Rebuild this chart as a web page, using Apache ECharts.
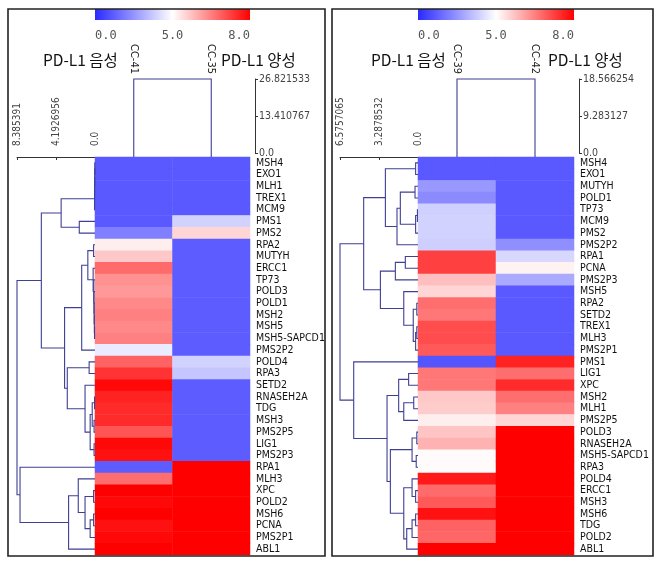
<!DOCTYPE html>
<html><head><meta charset="utf-8">
<script src="https://cdn.jsdelivr.net/npm/echarts@6/dist/echarts.min.js"></script>
<style>html,body{margin:0;padding:0;background:#fff}#c{width:662px;height:567px}</style>
</head><body><div id="c"></div>
<script>
// ---------------- DATA ----------------
const leftRows = ['MSH4','EXO1','MLH1','TREX1','MCM9','PMS1','PMS2','RPA2','MUTYH','ERCC1','TP73','POLD3','POLD1','MSH2','MSH5','MSH5-SAPCD1','PMS2P2','POLD4','RPA3','SETD2','RNASEH2A','TDG','MSH3','PMS2P5','LIG1','PMS2P3','RPA1','MLH3','XPC','POLD2','MSH6','PCNA','PMS2P1','ABL1'];
const leftCols = ['CC-41','CC-35'];
const leftCC41 = [1.0,1.0,1.0,1.0,1.0,1.0,1.9,5.2,5.65,6.75,6.3,6.2,6.4,6.5,6.4,6.5,4.5,6.85,7.4,7.9,7.6,7.5,7.5,7.0,7.9,7.8,1.1,6.7,8.0,7.9,8.0,7.8,7.9,8.0];
const leftCC35 = [1.0,1.0,1.0,1.0,1.0,3.9,5.5,1.1,1.1,1.1,1.1,1.1,1.1,1.1,1.1,1.1,1.1,3.9,3.6,1.1,1.1,1.1,1.1,1.1,1.1,1.1,8.0,8.0,8.0,8.0,8.0,8.0,8.0,8.0];

const rightRows = ['MSH4','EXO1','MUTYH','POLD1','TP73','MCM9','PMS2','PMS2P2','RPA1','PCNA','PMS2P3','MSH5','RPA2','SETD2','TREX1','MLH3','PMS2P1','PMS1','LIG1','XPC','MSH2','MLH1','PMS2P5','POLD3','RNASEH2A','MSH5-SAPCD1','RPA3','POLD4','ERCC1','MSH3','MSH6','TDG','POLD2','ABL1'];
const rightCols = ['CC-39','CC-42'];
const rightCC39 = [1.0,1.0,2.5,2.2,3.85,3.9,3.9,3.8,7.25,7.25,5.75,5.5,6.7,6.6,7.1,7.1,6.95,0.9,6.6,6.6,5.65,5.6,5.2,5.7,5.9,5.05,5.05,7.7,6.75,6.95,7.8,6.85,6.8,8.0];
const rightCC42 = [1.0,1.0,1.0,1.0,1.0,1.0,1.0,2.3,4.05,5.15,2.95,1.0,1.0,1.0,1.0,1.0,1.0,7.6,6.7,7.5,6.7,6.5,5.5,8.0,8.0,8.0,8.0,8.0,8.0,8.0,8.0,8.0,8.0,8.0];

// row dendrogram merges: [childA, childB, height]; index < 34 = leaf, >= 34 = earlier merge (34 + k)
const leftMerges = [
 [0,1,0.02],[34,2,0.03],[35,3,0.04],[36,4,0.05],[5,6,1.69],[37,38,3.64],
 [7,8,0.15],[14,15,0.05],[13,41,0.07],[12,42,0.09],[11,43,0.11],[10,44,0.13],[9,45,0.2],
 [40,46,0.77],[47,16,1.43],[17,18,0.63],[20,21,0.05],[22,23,0.1],[50,51,0.3],[24,25,0.1],
 [52,53,0.52],[19,54,1.07],[49,55,2.98],[48,56,3.27],[39,57,5.77],
 [28,29,0.15],[30,31,0.15],[60,32,0.52],[59,61,1.07],[27,62,1.8],[63,33,2.84],[26,64,8.06],
 [58,65,8.385391]
];
const rightMerges = [
 [0,1,0.2],[2,3,0.25],[4,5,0.05],[36,6,0.2],[35,37,1.49],[38,7,1.77],[34,39,2.75],
 [8,9,1.07],[41,10,1.91],[12,13,0.1],[14,15,0.1],[44,16,0.2],[43,45,0.4],[11,46,1.2],
 [42,47,3.17],[40,48,4.58],
 [18,19,0.79],[20,21,0.36],[51,22,1.2],[50,52,1.63],[23,24,0.1],[25,26,0.15],[54,55,0.5],
 [28,29,0.2],[27,57,0.5],[30,31,0.2],[59,32,0.5],[60,33,0.95],[58,61,1.2],[56,62,2.33],
 [53,63,2.61],[17,64,5.42],[49,65,6.5757065]
];
// column dendrogram heights
const leftColHeight = 26.821533;
const rightColHeight = 18.566254;
// scale ticks
const leftRowTicks = [0, 4.1926956, 8.385391];
const leftRowTickLabels = ['0.0','4.1926956','8.385391'];
const leftColTicks = [0, 13.410767, 26.821533];
const leftColTickLabels = ['0.0','13.410767','26.821533'];
const rightRowTicks = [0, 3.2878532, 6.5757065];
const rightRowTickLabels = ['0.0','3.2878532','6.5757065'];
const rightColTicks = [0, 9.283127, 18.566254];
const rightColTickLabels = ['0.0','9.283127','18.566254'];
const colorBarLabels = ['0.0','5.0','8.0'];
const groupNeg = 'PD-L1 음성';
const groupPos = 'PD-L1 양성';

// ---------------- STYLE ----------------
const LINE = '#3f3f94';
const AXC = '#333';
const ROWFONT = "'DejaVu Sans Condensed','DejaVu Sans',sans-serif";
const scaleStops = ['#3030ff','#5959ff','#8383ff','#acacff','#d6d6ff','#ffffff','#ffaaaa','#ff5555','#ff0000'];

function heatData(a, b) {
  const d = [];
  a.forEach((v, i) => d.push([0, i, v]));
  b.forEach((v, i) => d.push([1, i, v]));
  return d;
}
function dendroData(merges, n) {
  const pos = [], hgt = [];
  for (let i = 0; i < n; i++) { pos.push(i + 0.5); hgt.push(0); }
  const out = [];
  merges.forEach(m => {
    const [a, b, h] = m;
    out.push([pos[a], hgt[a], pos[b], hgt[b], h]);
    pos.push((pos[a] + pos[b]) / 2); hgt.push(h);
  });
  return out;
}
function nearestLabel(ticks, labels) {
  return v => {
    let bi = 0;
    ticks.forEach((t, i) => { if (Math.abs(t - v) < Math.abs(ticks[bi] - v)) bi = i; });
    return labels[bi];
  };
}
function rowDendroRender(params, api) {
  const ya = api.value(0), ha = api.value(1), yb = api.value(2), hb = api.value(3), h = api.value(4);
  const pts = [api.coord([ha, ya]), api.coord([h, ya]), api.coord([h, yb]), api.coord([hb, yb])];
  return { type: 'polyline', shape: { points: pts }, style: { stroke: LINE, lineWidth: 1.1, fill: null } };
}
function colDendroRender(params, api) {
  const xa = api.value(0), ha = api.value(1), xb = api.value(2), hb = api.value(3), h = api.value(4);
  const p0 = api.coord([xa, ha]), p3 = api.coord([xb, hb]);
  const pts = [[p0[0], p0[1] + 4], api.coord([xa, h]), api.coord([xb, h]), [p3[0], p3[1] + 4]];
  return { type: 'polyline', shape: { points: pts }, style: { stroke: LINE, lineWidth: 1.1, fill: null } };
}

function panel(o) {
  const grids = [
    { left: o.hx, top: 157, width: o.hw, height: 398 },
    { left: o.dx, top: 157, width: o.hx - o.dx, height: 398 },
    { left: o.hx, top: 79, width: o.hw, height: 74 }
  ];
  const xAxes = [
    { gridIndex: o.g, type: 'category', data: o.cols, position: 'top',
      axisLine: { show: false }, axisTick: { show: false },
      axisLabel: { rotate: 90, margin: 83, fontSize: 11, color: '#222', fontFamily: ROWFONT } },
    { gridIndex: o.g + 1, type: 'value', min: 0, max: o.rowMax, inverse: true, position: 'top', offset: 4,
      splitLine: { show: false },
      axisLine: { show: true, lineStyle: { color: AXC, width: 1 } },
      axisTick: { show: true, inside: true, length: 3, customValues: o.rowTicks, lineStyle: { color: AXC } },
      axisLabel: { rotate: 90, margin: 7, fontSize: 10, color: '#444', fontFamily: ROWFONT,
        customValues: o.rowTicks, formatter: nearestLabel(o.rowTicks, o.rowTickLabels), showMinLabel: true, showMaxLabel: true } },
    { gridIndex: o.g + 2, type: 'category', data: o.cols, show: false }
  ];
  const yAxes = [
    { gridIndex: o.g, type: 'category', data: o.rows, inverse: true, position: 'right',
      axisLine: { show: false }, axisTick: { show: false },
      axisLabel: { margin: 6, fontSize: 10.5, color: '#111', fontFamily: ROWFONT, interval: 0 } },
    { gridIndex: o.g + 1, type: 'value', min: 0, max: o.rows.length, inverse: true, show: false },
    { gridIndex: o.g + 2, type: 'value', min: 0, max: o.colMax, position: 'right', offset: 5,
      splitLine: { show: false },
      axisLine: { show: true, lineStyle: { color: AXC, width: 1 } },
      axisTick: { show: true, length: 3, customValues: o.colTicks, lineStyle: { color: AXC } },
      axisLabel: { margin: 4, fontSize: 10.5, color: '#444', fontFamily: ROWFONT,
        customValues: o.colTicks, formatter: nearestLabel(o.colTicks, o.colTickLabels) } }
  ];
  const series = [
    { type: 'heatmap', xAxisIndex: o.g, yAxisIndex: o.g, data: heatData(o.v1, o.v2), silent: true, itemStyle: { borderWidth: 0 } },
    { type: 'custom', coordinateSystem: 'cartesian2d', xAxisIndex: o.g + 1, yAxisIndex: o.g + 1, silent: true,
      data: dendroData(o.merges, o.rows.length), renderItem: rowDendroRender, encode: { x: [1, 3, 4], y: [0, 2] } },
    { type: 'custom', coordinateSystem: 'cartesian2d', xAxisIndex: o.g + 2, yAxisIndex: o.g + 2, silent: true,
      data: [[0, 0, 1, 0, o.colMax]], renderItem: colDendroRender, encode: { x: [0, 2], y: [1, 3, 4] } }
  ];
  const gfx = [
    { type: 'rect', shape: { x: o.bx, y: 9, width: o.bw, height: 547 }, style: { fill: null, stroke: '#222', lineWidth: 1.6 }, z: 10 },
    { type: 'rect', shape: { x: o.hx, y: 9, width: o.hw, height: 11 },
      style: { fill: new echarts.graphic.LinearGradient(0, 0, 1, 0, [
        { offset: 0, color: '#2a2aff' }, { offset: 0.5, color: '#ffffff' }, { offset: 1, color: '#ff0000' }]) } },
    { type: 'text', x: o.hx, y: 36, style: { text: colorBarLabels[0], fontSize: 12, fontFamily: 'DejaVu Sans Mono', fill: '#555', align: 'left', verticalAlign: 'middle' } },
    { type: 'text', x: o.hx + o.hw / 2, y: 36, style: { text: colorBarLabels[1], fontSize: 12, fontFamily: 'DejaVu Sans Mono', fill: '#555', align: 'center', verticalAlign: 'middle' } },
    { type: 'text', x: o.hx + o.hw, y: 36, style: { text: colorBarLabels[2], fontSize: 12, fontFamily: 'DejaVu Sans Mono', fill: '#555', align: 'right', verticalAlign: 'middle' } },
    { type: 'text', x: o.tx1, y: 60, style: { text: groupNeg, fontSize: 15.5, fontFamily: "'Noto Sans CJK KR', sans-serif", fill: '#111', align: 'left', verticalAlign: 'middle' } },
    { type: 'text', x: o.tx2, y: 60, style: { text: groupPos, fontSize: 15.5, fontFamily: "'Noto Sans CJK KR', sans-serif", fill: '#111', align: 'left', verticalAlign: 'middle' } }
  ];
  return { grids, xAxes, yAxes, series, gfx };
}

const L = panel({ g: 0, hx: 95, hw: 155, dx: 17, bx: 8, bw: 317, tx1: 43, tx2: 221,
  rows: leftRows, cols: leftCols, v1: leftCC41, v2: leftCC35, merges: leftMerges,
  rowMax: leftRowTicks[2], rowTicks: leftRowTicks, rowTickLabels: leftRowTickLabels,
  colMax: leftColHeight, colTicks: leftColTicks, colTickLabels: leftColTickLabels });
const R = panel({ g: 3, hx: 418, hw: 156, dx: 340, bx: 332, bw: 321, tx1: 371, tx2: 548,
  rows: rightRows, cols: rightCols, v1: rightCC39, v2: rightCC42, merges: rightMerges,
  rowMax: rightRowTicks[2], rowTicks: rightRowTicks, rowTickLabels: rightRowTickLabels,
  colMax: rightColHeight, colTicks: rightColTicks, colTickLabels: rightColTickLabels });

const chart = echarts.init(document.getElementById('c'), null, { renderer: 'canvas' });
chart.setOption({
  animation: false,
  backgroundColor: '#fff',
  grid: L.grids.concat(R.grids),
  xAxis: L.xAxes.concat(R.xAxes),
  yAxis: L.yAxes.concat(R.yAxes),
  visualMap: { type: 'continuous', show: false, min: 0, max: 8, seriesIndex: [0, 3], dimension: 2,
    inRange: { color: scaleStops } },
  series: L.series.concat(R.series),
  graphic: L.gfx.concat(R.gfx)
});
</script></body></html>
